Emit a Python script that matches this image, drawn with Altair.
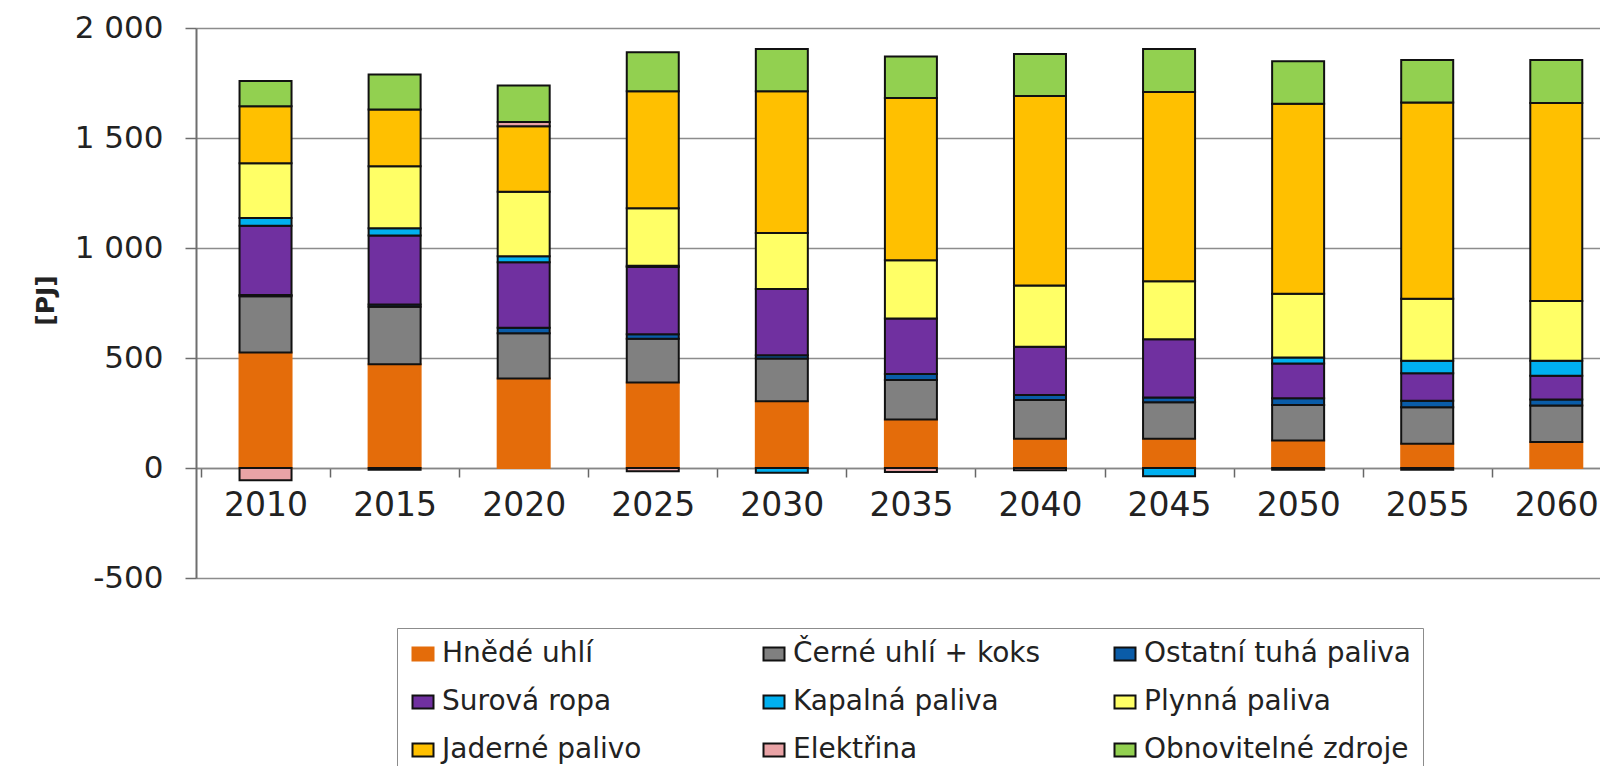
import altair as alt
import pandas as pd

years = [2010, 2015, 2020, 2025, 2030, 2035, 2040, 2045, 2050, 2055, 2060]
series = ["Hnědé uhlí", "Černé uhlí + koks", "Ostatní tuhá paliva",
          "Surová ropa", "Kapalná paliva", "Plynná paliva",
          "Jaderné palivo", "Elektřina", "Obnovitelné zdroje"]

hnede = [525, 472, 407, 389, 303, 220, 133, 133, 125, 110, 118]
cerne = [256, 261, 205, 199, 195, 180, 176, 166, 161, 166, 166]
ostatni = [5, 10, 26, 20, 15, 27, 23, 22, 31, 30, 27]
surova = [315, 314, 297, 306, 301, 252, 219, 264, 158, 125, 108]
kapalna = [35, 33, 27, 5, -22, 0, 0, -38, 27, 56, 68]
plynna = [249, 282, 294, 262, 254, 265, 278, 264, 290, 282, 272]
jaderne = [259, 257, 297, 532, 645, 738, 862, 860, 864, 892, 900]
elektrina = [-56, -8, 20, -15, 0, -18, -10, 0, -8, -8, 0]
obnov = [115, 160, 166, 177, 192, 188, 191, 196, 193, 194, 196]

values = [hnede, cerne, ostatni, surova, kapalna, plynna, jaderne, elektrina, obnov]
fills = ["#E46C0A", "#808080", "#0A5CA8", "#7030A0", "#00B0F0",
         "#FFFF66", "#FFC000", "#E9A3A6", "#92D050"]
strokes = ["#E46C0A", "#111111", "#111111", "#111111", "#111111",
           "#111111", "#111111", "#111111", "#111111"]

y_ticks = [-500, 0, 500, 1000, 1500, 2000]
x_ticks = sorted(years + [y - 2.5 for y in years])

rows = []
for i, (name, vals) in enumerate(zip(series, values)):
    for yr, v in zip(years, vals):
        if v != 0:
            rows.append({"year": yr, "series": name, "value": v, "idx": i})
df = pd.DataFrame(rows)

W, H = 1404, 550
TOP = 20
legend = alt.Legend(
    title=None, orient="none", legendX=201, legendY=600,
    direction="horizontal", columns=3,
    symbolType="M-1,-0.62H1V0.62H-1Z",
    symbolSize=441, symbolStrokeWidth=2,
    labelFont="DejaVu Sans", labelFontSize=28, labelColor="#222222",
    labelOffset=5, labelLimit=500, columnPadding=50, rowPadding=20,
    padding=12, strokeColor="#8c8c8c", fillColor="white", gridAlign="all",
)

chart = alt.Chart(df).mark_bar(size=52, strokeWidth=2).encode(
    x=alt.X("year:Q",
            scale=alt.Scale(domain=[2007.5, 2007.5 + W / 26], nice=False, zero=False),
            axis=alt.Axis(values=x_ticks, format="d",
                          labelExpr="datum.value % 5 == 0 ? datum.label : ''",
                          tickOpacity={"condition": {"test": "datum.value % 5 != 0", "value": 1}, "value": 0},
                          offset=-round(H * 500 / 2500), domainColor="#868686", domainWidth=1.5,
                          tickColor="#666666", tickSize=9, tickWidth=1.5, labelPadding=12,
                          labelFont="DejaVu Sans", labelFontSize=33, labelColor="#222222",
                          grid=False, title=None, labelOverlap=False, labelFlush=False)),
    y=alt.Y("value:Q", stack="zero",
            scale=alt.Scale(domain=[-500, 2000], nice=False),
            axis=alt.Axis(values=y_ticks,
                          labelExpr="abs(datum.value) >= 1000 ? replace(format(datum.value, ','), ',', ' ') : toString(datum.value)",
                          grid=True, gridColor="#8c8c8c", gridWidth=1.5,
                          domainColor="#6e6e6e", domainWidth=2,
                          tickColor="#6e6e6e", tickSize=11, tickWidth=1.5, labelPadding=22,
                          labelFont="DejaVu Sans", labelFontSize=31, labelColor="#222222",
                          title="[PJ]", titleFont="DejaVu Sans", titleFontWeight="bold",
                          titleFontSize=25, titleColor="#222222", titleX=-151, titleY=272,
                          titleAngle=270, titleBaseline="middle", titleAlign="center")),
    color=alt.Color("series:N", scale=alt.Scale(domain=series, range=fills), legend=legend),
    stroke=alt.Stroke("series:N", scale=alt.Scale(domain=series, range=strokes), legend=legend),
    order=alt.Order("idx:Q"),
).properties(
    width=W, height=H,
    autosize=alt.AutoSizeParams(type="none"),
    padding={"left": 188, "top": TOP, "right": 0, "bottom": 758 - TOP - H},
).configure_view(stroke=None).configure_legend(strokeWidth=2).configure(background="white")

chart.save("out.html", embed_options={"renderer": "svg", "actions": False})
